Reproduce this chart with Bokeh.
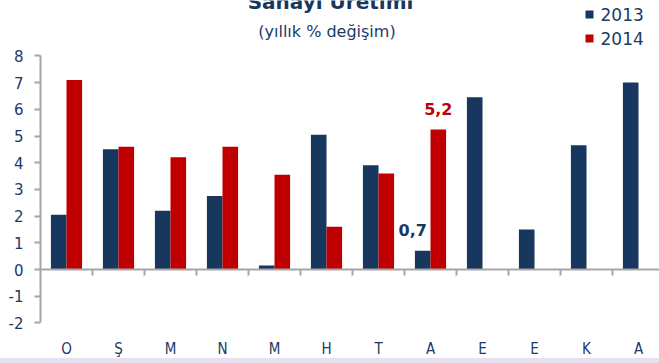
import numpy as np
from bokeh.plotting import figure
from bokeh.models import Range1d, FixedTicker, Div, Span
from bokeh.layouts import column
from bokeh.core.properties import value
from bokeh.embed import file_html
from bokeh.resources import INLINE

# ---- data ----
months = ["O", "Ş", "M", "N", "M", "H", "T", "A", "E", "E", "K", "A"]
v2013 = [2.05, 4.5, 2.2, 2.75, 0.15, 5.05, 3.9, 0.7, 6.45, 1.5, 4.65, 7.0]
v2014 = [7.1, 4.6, 4.2, 4.6, 3.55, 1.6, 3.6, 5.24]
series = ["2013", "2014"]
y_ticks = [-2, -1, 0, 1, 2, 3, 4, 5, 6, 7, 8]
title = "Sanayi Üretimi"
subtitle = "(yıllık  % değişim)"

# ---- layout constants ----
W, H = 659, 358
LEFT = 40
ZERO_PX = 269.0
UNIT_PX = 26.7
CAT_PX = 52.0
NAVY = "#17375e"
RED = "#c00000"
TXT = "#1b3a66"
GRAY = "#a6a6a6"


def px2x(px):
    return (px - LEFT) / CAT_PX - 0.5


def py2y(py):
    return (ZERO_PX - py) / UNIT_PX


x_rng = Range1d(-0.5, -0.5 + (W - LEFT) / CAT_PX)
y_rng = Range1d(py2y(H), py2y(0))

p = figure(width=W, height=H, x_range=x_rng, y_range=y_rng,
           output_backend="svg", toolbar_location=None, x_axis_type=None,
           min_border_left=LEFT, min_border_right=0, min_border_top=0,
           min_border_bottom=0, outline_line_color=None,
           background_fill_color="white", border_fill_color="white")
p.ygrid.visible = False

ax = p.yaxis[0]
ax.ticker = FixedTicker(ticks=y_ticks)
ax.major_label_overrides = {t: str(t) for t in y_ticks}
ax.bounds = (min(y_ticks), max(y_ticks))
ax.axis_line_color = GRAY
ax.axis_line_width = 2
ax.major_tick_line_color = GRAY
ax.major_tick_line_width = 2
ax.major_tick_out = 6
ax.major_tick_in = 0
ax.minor_tick_line_color = None
ax.major_label_text_font = "DejaVu Sans"
ax.major_label_text_font_size = "15px"
ax.major_label_text_color = TXT
ax.major_label_standoff = 11

# x axis line at zero
p.add_layout(Span(location=0, dimension="width", line_color=GRAY, line_width=2))
idx = np.arange(len(months))
sep = np.append(idx[1:] - 0.5, len(months) - 0.5)
p.segment(x0=sep, y0=np.zeros(len(sep)), x1=sep, y1=np.full(len(sep), -6 / UNIT_PX),
          line_color=GRAY, line_width=2)

# bars
bw = 0.3
p.vbar(x=idx - bw / 2, top=v2013, width=bw, fill_color=NAVY, line_color=None)
idx14 = np.arange(len(v2014))
p.vbar(x=idx14 + bw / 2, top=v2014, width=bw, fill_color=RED, line_color=None)


def fmt(v):
    return f"{v:.1f}".replace(".", ",")


last = len(v2014) - 1
p.text(x=[last - bw / 2], y=[v2013[last]], text=[fmt(v2013[last])], x_offset=-10, y_offset=-21,
       text_align="center", text_baseline="middle", text_font=value("DejaVu Sans"),
       text_font_style="bold", text_font_size="16px", text_color=NAVY)
p.text(x=[last + bw / 2], y=[v2014[last]], text=[fmt(v2014[last])], x_offset=0, y_offset=-21,
       text_align="center", text_baseline="middle", text_font=value("DejaVu Sans"),
       text_font_style="bold", text_font_size="16px", text_color=RED)

# month labels
p.text(x=idx, y=np.full(len(idx), py2y(348)), text=months, text_align="center",
       text_baseline="middle", text_font=value("DejaVu Sans Condensed"),
       text_font_size="15px", text_color=TXT)

# title / subtitle
p.text(x=[px2x(330)], y=[py2y(1)], text=[title], text_align="center",
       text_baseline="alphabetic", text_font=value("DejaVu Sans"), text_font_style="bold",
       text_font_size="20px", text_color=NAVY)
p.text(x=[px2x(329)], y=[py2y(31)], text=[subtitle], text_align="center",
       text_baseline="middle", text_font=value("DejaVu Sans"),
       text_font_size="16px", text_color=TXT)

# legend
leg_y = [py2y(14), py2y(38)]
p.scatter(x=[px2x(589)] * 2, y=leg_y, marker="square", size=8,
          fill_color=[NAVY, RED], line_color=None)
p.text(x=[px2x(600)] * 2, y=leg_y, text=series, text_align="left", text_baseline="middle",
       text_font=value("DejaVu Sans"), text_font_size="17px", text_color=TXT)

strip = Div(text="", width=W, height=5, margin=0,
            styles={"background-color": "#e4e2f0"})
layout = column(p, strip, spacing=0)

open("out.html", "w").write(file_html(layout, INLINE))
